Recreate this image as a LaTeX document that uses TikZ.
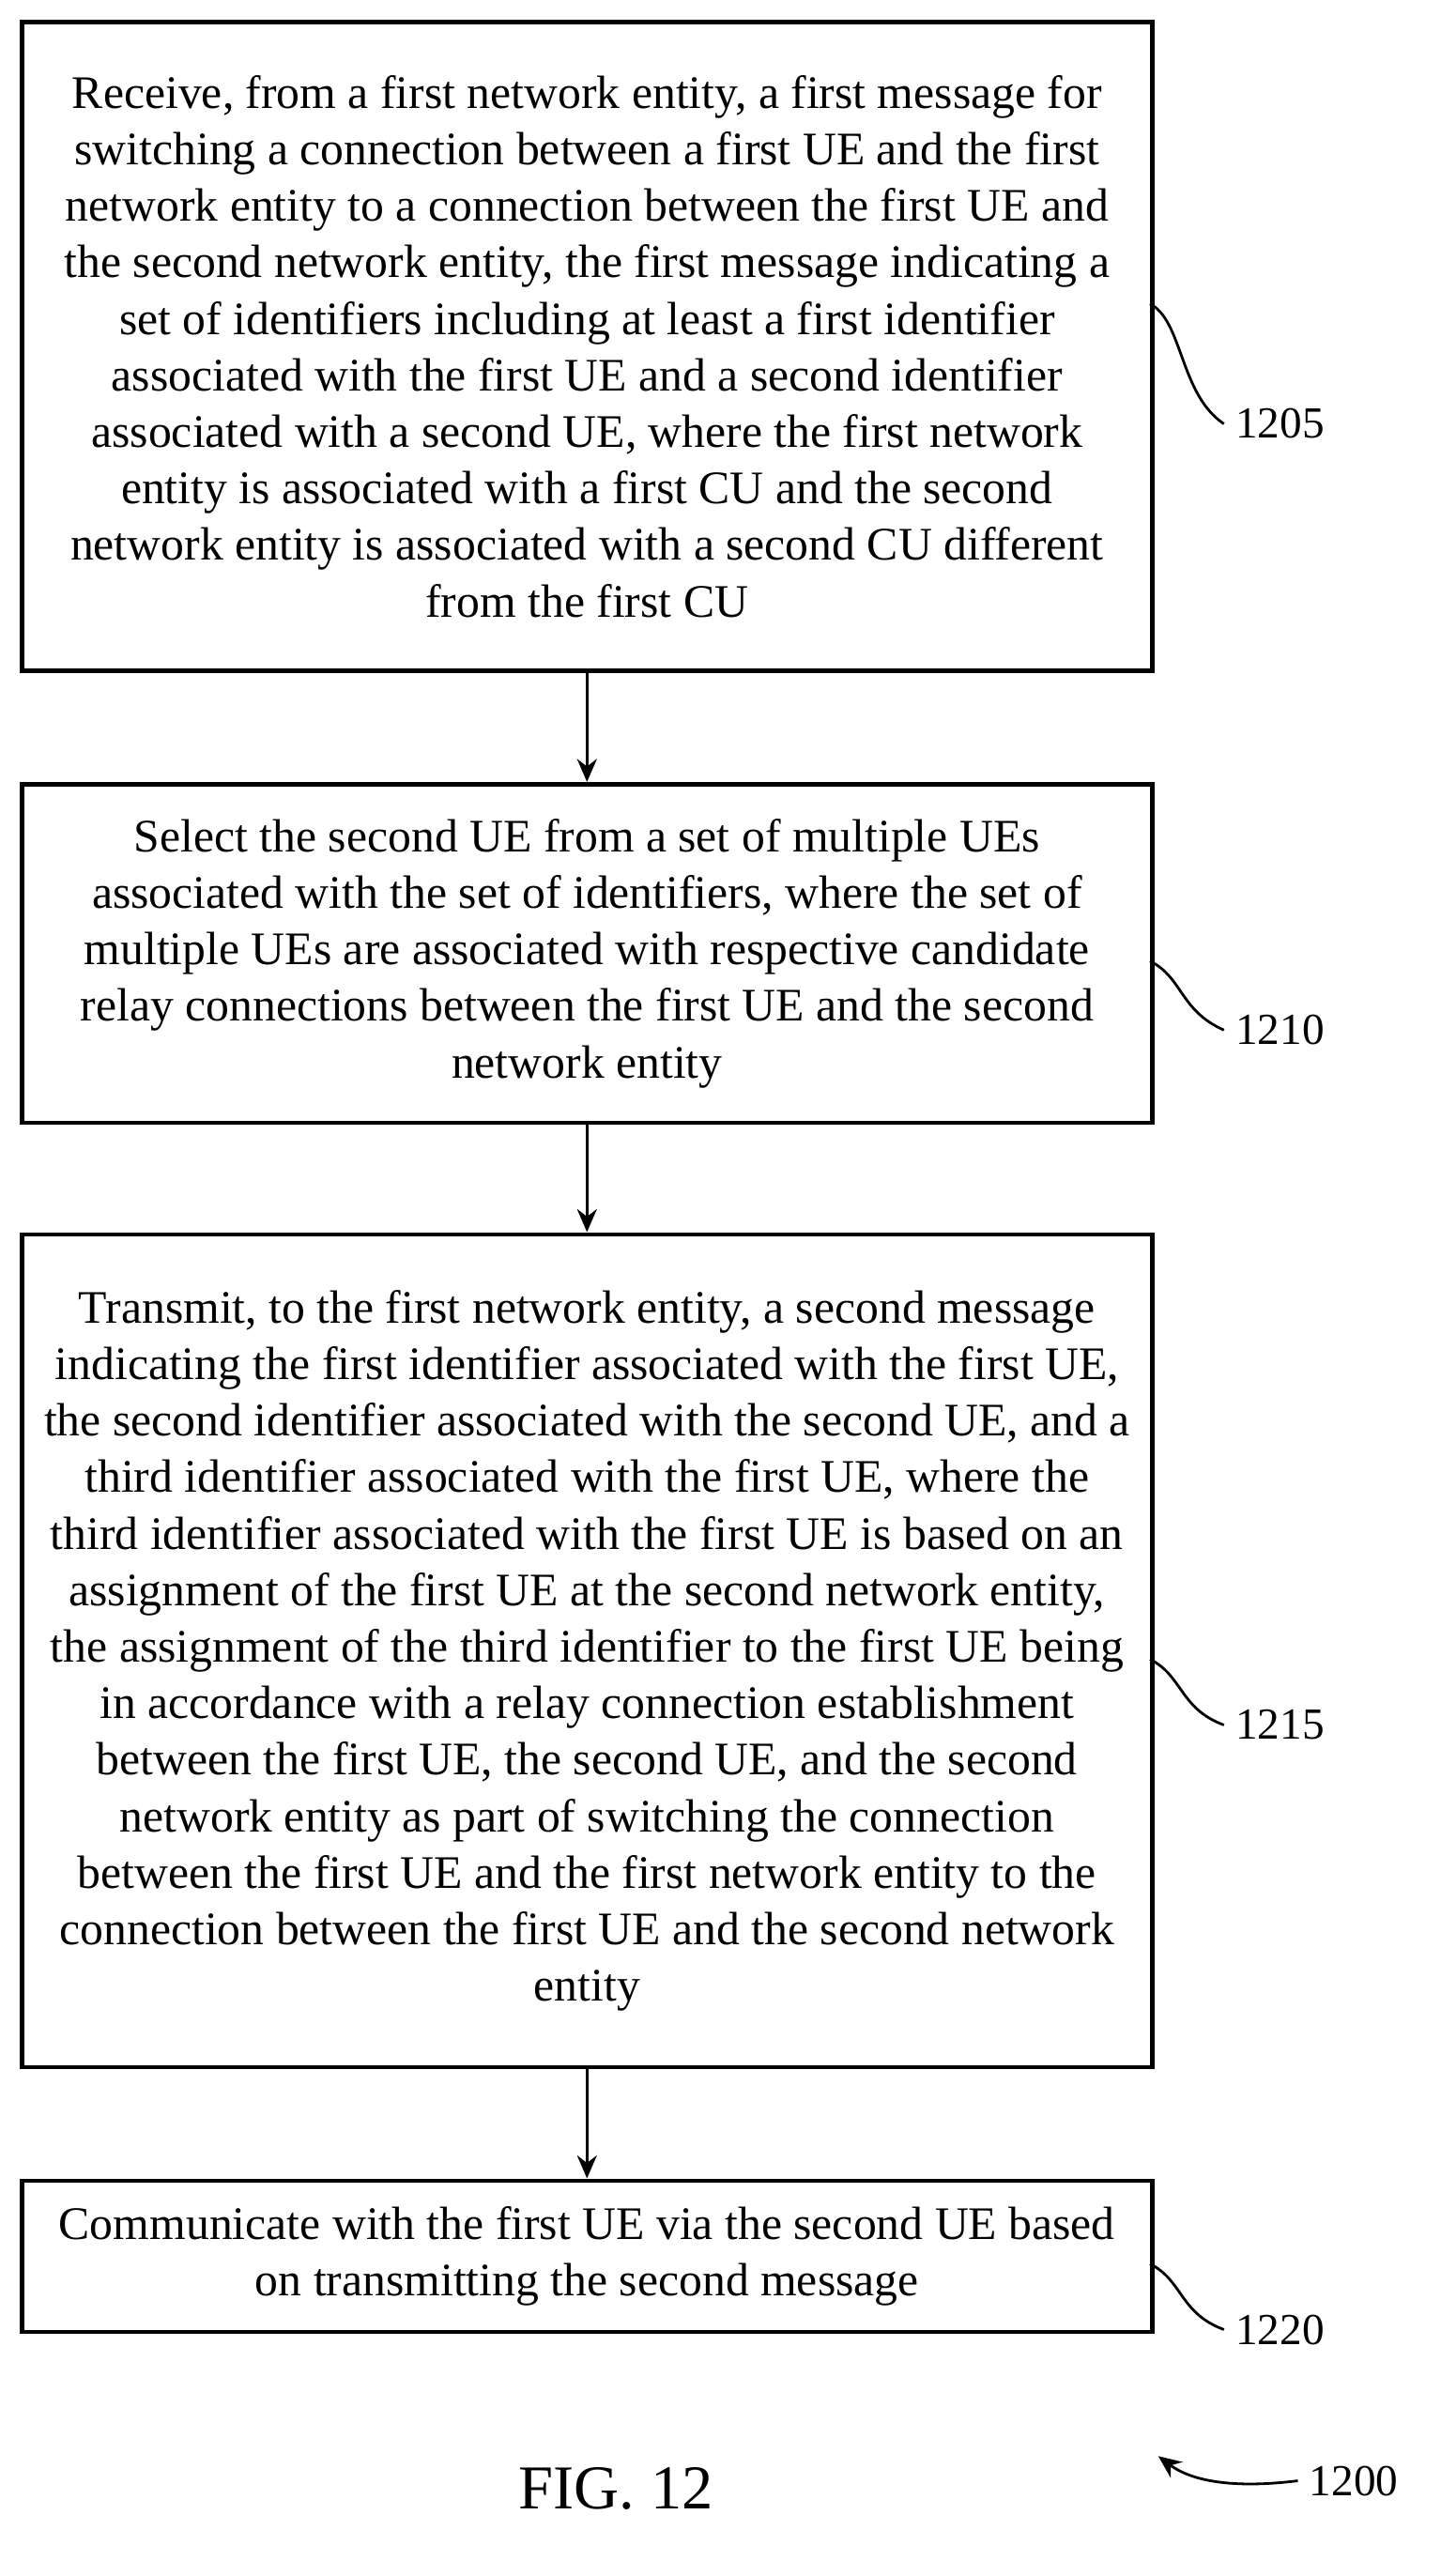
\documentclass[tikz,border=0pt]{standalone}
\usepackage{fontspec}
\setmainfont{Liberation Serif}
\usetikzlibrary{arrows.meta}
\begin{document}
\begin{tikzpicture}[x=0.5pt,y=-0.5pt,
  box/.style={draw,line width=1.3pt,inner sep=0pt},
  txt/.style={align=center,font=\fontsize{14.2}{17.2}\selectfont},
  arr/.style={-{Stealth[length=7pt,width=6pt]},line width=1pt},
  lab/.style={font=\fontsize{13.5}{16}\selectfont,anchor=west}]
\useasboundingbox (0,0) rectangle (877,1568);
\node[box,minimum width=344pt,minimum height=197.5pt,anchor=north west] (b1) at (12,12) {};
\node[txt] (t1) at (b1.center) {Receive, from a first network entity, a first message for\\ switching a connection between a first UE and the first\\ network entity to a connection between the first UE and\\ the second network entity, the first message indicating a\\ set of identifiers including at least a first identifier\\ associated with the first UE and a second identifier\\ associated with a second UE, where the first network\\ entity is associated with a first CU and the second\\ network entity is associated with a second CU different\\ from the first CU};
\node[box,minimum width=344pt,minimum height=103pt,anchor=north west] (b2) at (12,476) {};
\node[txt] (t2) at (b2.center) {Select the second UE from a set of multiple UEs\\ associated with the set of identifiers, where the set of\\ multiple UEs are associated with respective candidate\\ relay connections between the first UE and the second\\ network entity};
\node[box,minimum width=344pt,minimum height=253.5pt,anchor=north west] (b3) at (12,750) {};
\node[txt] (t3) at (b3.center) {Transmit, to the first network entity, a second message\\ indicating the first identifier associated with the first UE,\\ the second identifier associated with the second UE, and a\\ third identifier associated with the first UE, where the\\ third identifier associated with the first UE is based on an\\ assignment of the first UE at the second network entity,\\ the assignment of the third identifier to the first UE being\\ in accordance with a relay connection establishment\\ between the first UE, the second UE, and the second\\ network entity as part of switching the connection\\ between the first UE and the first network entity to the\\ connection between the first UE and the second network\\ entity};
\node[box,minimum width=344pt,minimum height=46pt,anchor=north west] (b4) at (12,1326) {};
\node[txt] (t4) at (b4.center) {Communicate with the first UE via the second UE based\\ on transmitting the second message};
\draw[arr] (b1.south) -- (b2.north);
\draw[arr] (b2.south) -- (b3.north);
\draw[arr] (b3.south) -- (b4.north);
\node[lab] (l1) at (745,258) {1205};
\node[lab] (l2) at (745,627) {1210};
\node[lab] (l3) at (745,1050) {1215};
\node[lab] (l4) at (745,1418) {1220};
\draw[line width=0.8pt] (700,185) .. controls (720,195) and (718,240) .. (l1.west);
\draw[line width=0.8pt] (700,585) .. controls (720,595) and (718,615) .. (l2.west);
\draw[line width=0.8pt] (700,1010) .. controls (720,1020) and (718,1040) .. (l3.west);
\draw[line width=0.8pt] (700,1378) .. controls (720,1388) and (718,1408) .. (l4.west);
\node[lab] (l5) at (790,1510) {1200};
\draw[arr,line width=0.8pt] (l5.west) .. controls (750,1515) and (725,1510) .. (705,1495);
\node[font=\fontsize{19}{22}\selectfont] (fig) at (375,1515) {FIG. 12};
\end{tikzpicture}
\end{document}
